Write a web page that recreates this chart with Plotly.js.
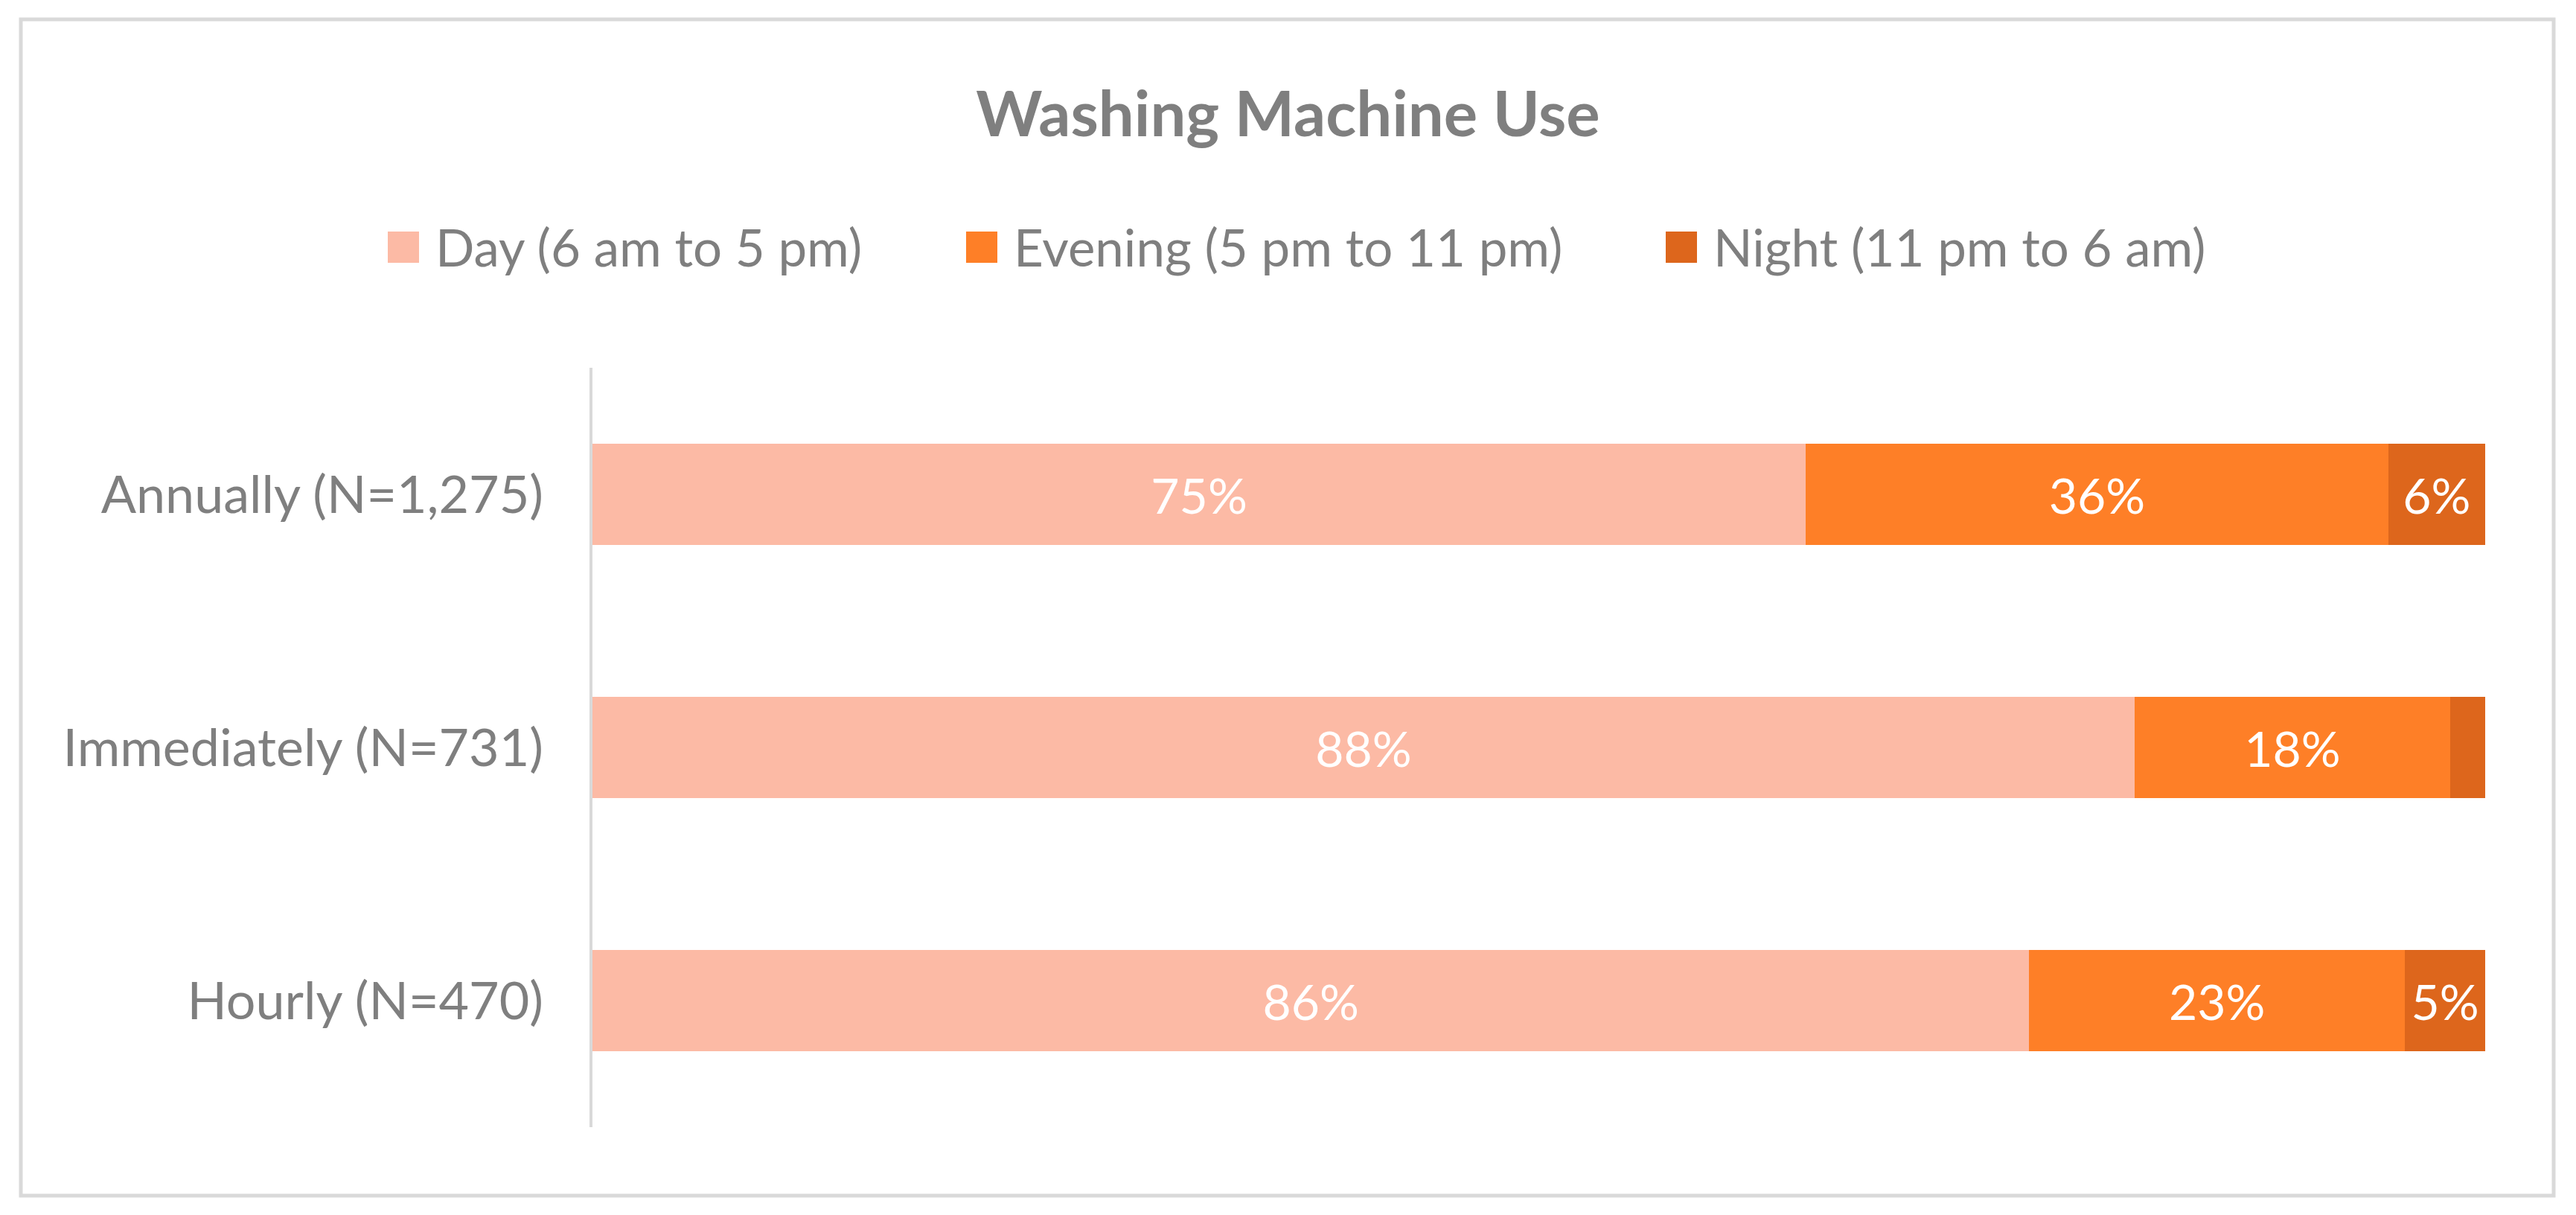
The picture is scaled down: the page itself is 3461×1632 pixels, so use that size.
<!DOCTYPE html>
<html>
<head>
<meta charset="utf-8">
<script src="https://cdn.plot.ly/plotly-3.0.1.min.js"></script>
<style>
  html, body { margin: 0; padding: 0; background: #fff; }
  #grafica { width: 3461px; height: 1632px; }
</style>
</head>
<body>
<div id="grafica"></div>
<script>
// datos
const categorias = ['Annually (N=1,275)', 'Immediately (N=731)', 'Hourly (N=470)'];
const nombresSeries = ['Day (6 am to 5 pm)', 'Evening (5 pm to 11 pm)', 'Night (11 pm to 6 am)'];
const dia = [75, 88, 86];
const tarde = [36, 18, 22.5];
const noche = [6, 2, 4.8];
const mostrarNoche = [true, false, true];
const colores = ['#FCBAA5', '#FE7F27', '#DD661C'];

const W = 3461, H = 1632;
const margen = { l: 796, r: 122, t: 494, b: 118 };
const anchoPlot = W - margen.l - margen.r;
const altoPlot = H - margen.t - margen.b;

// pixeles de la pagina -> coordenadas paper
function px(x) { return (x - margen.l) / anchoPlot; }
function py(y) { return (H - margen.b - y) / altoPlot; }

const gris = '#7F7F7F';
const fuente = 'Lato, "Open Sans", sans-serif';

function serie(valores, nombre, color, textos) {
    return {
        type: 'bar',
        orientation: 'h',
        y: categorias,
        x: valores,
        name: nombre,
        marker: { color: color, line: { width: 0 } },
        text: textos,
        texttemplate: '%{text}',
        textposition: 'inside',
        insidetextanchor: 'middle',
        textangle: 0,
        constraintext: 'none',
        textfont: { family: fuente, size: 66, color: '#FFFFFF' },
        hoverinfo: 'none',
        showlegend: false
    };
}

const pct = v => Math.round(v) + '%';

const data = [
    serie(dia, nombresSeries[0], colores[0], dia.map(pct)),
    serie(tarde, nombresSeries[1], colores[1], tarde.map(pct)),
    serie(noche, nombresSeries[2], colores[2], noche.map((v, i) => mostrarNoche[i] ? pct(v) : ''))
];

// leyenda hecha a mano (cuadros grandes como en el original)
const leyendaCuadroX = [521, 1298, 2238];
const leyendaTextoX = [583, 1360, 2300];
const leyendaY = 332;
const lado = 42;

const shapes = [{
    type: 'rect', xref: 'paper', yref: 'paper',
    x0: px(28), x1: px(3431), y0: py(1606), y1: py(26),
    line: { color: '#D9D9D9', width: 5 }, fillcolor: 'rgba(0,0,0,0)', layer: 'below'
}];
const annotations = [];
nombresSeries.forEach((nombre, i) => {
    shapes.push({
        type: 'rect', xref: 'paper', yref: 'paper',
        x0: px(leyendaCuadroX[i]), x1: px(leyendaCuadroX[i] + lado),
        y0: py(leyendaY + lado / 2), y1: py(leyendaY - lado / 2),
        line: { width: 0 }, fillcolor: colores[i]
    });
    annotations.push({
        xref: 'paper', yref: 'paper',
        x: px(leyendaTextoX[i]), y: py(leyendaY),
        xanchor: 'left', yanchor: 'middle',
        text: nombre, showarrow: false,
        font: { family: fuente, size: 69, color: gris }
    });
});

const layout = {
    width: W,
    height: H,
    margin: margen,
    paper_bgcolor: '#FFFFFF',
    plot_bgcolor: '#FFFFFF',
    barmode: 'stack',
    barnorm: 'percent',
    bargap: 0.6,
    title: {
        text: '<b>Washing Machine Use</b>',
        xref: 'container', yref: 'container',
        x: 0.5, y: 1 - 153 / H,
        xanchor: 'center', yanchor: 'middle',
        font: { family: fuente, size: 85, color: gris }
    },
    xaxis: { range: [0, 100], visible: false, fixedrange: true },
    yaxis: {
        type: 'category',
        autorange: 'reversed',
        showline: true,
        linecolor: '#D9D9D9',
        linewidth: 4,
        ticks: '',
        showgrid: false,
        zeroline: false,
        ticklabelstandoff: 48,
        tickfont: { family: fuente, size: 70, color: gris },
        fixedrange: true
    },
    showlegend: false,
    shapes: shapes,
    annotations: annotations
};

Plotly.newPlot('grafica', data, layout, { displayModeBar: false, staticPlot: true });
</script>
</body>
</html>
